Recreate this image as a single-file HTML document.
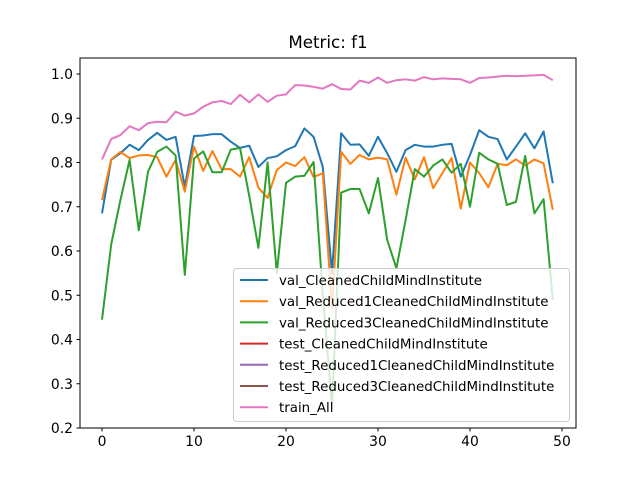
<!DOCTYPE html>
<html><head><meta charset="utf-8"><style>
body{margin:0;background:#fff}
text{font-family:"DejaVu Sans","Liberation Sans",sans-serif}
</style></head><body>
<svg id="chart" width="640" height="480" xmlns="http://www.w3.org/2000/svg">
<rect width="640" height="480" fill="#fff"/>
<text x="328" y="48" font-size="16.7" text-anchor="middle">Metric: f1</text>
<g id="grid"></g>
<g id="series"></g>
<rect x="80" y="58" width="496" height="370" fill="none" stroke="#000" stroke-width="1"/>
<g id="legend"></g>
</svg>
<script>
const epochs = Array.from({length:50},(_,i)=>i);
const xTicks = [0,10,20,30,40,50];
const yTicks = [0.2,0.3,0.4,0.5,0.6,0.7,0.8,0.9,1.0];
const valClean = [0.685,0.806,0.821,0.84,0.828,0.851,0.867,0.851,0.858,0.745,0.86,0.861,0.864,0.864,0.847,0.833,0.838,0.79,0.81,0.814,0.828,0.837,0.877,0.858,0.79,0.55,0.866,0.84,0.841,0.815,0.858,0.821,0.779,0.828,0.84,0.836,0.836,0.84,0.842,0.768,0.817,0.873,0.858,0.853,0.807,0.836,0.866,0.832,0.87,0.753];
const valRed1 = [0.715,0.807,0.824,0.81,0.816,0.817,0.812,0.768,0.806,0.734,0.836,0.781,0.826,0.785,0.785,0.768,0.812,0.743,0.72,0.783,0.8,0.792,0.812,0.767,0.776,0.47,0.824,0.797,0.817,0.807,0.811,0.807,0.727,0.811,0.762,0.812,0.742,0.776,0.81,0.696,0.8,0.776,0.744,0.797,0.794,0.807,0.793,0.807,0.798,0.693];
const valRed3 = [0.445,0.615,0.715,0.806,0.647,0.779,0.824,0.836,0.816,0.546,0.809,0.825,0.778,0.778,0.829,0.833,0.725,0.607,0.8,0.55,0.754,0.768,0.77,0.801,0.5,0.25,0.732,0.74,0.74,0.685,0.765,0.625,0.561,0.67,0.785,0.768,0.793,0.807,0.777,0.797,0.7,0.822,0.807,0.797,0.704,0.711,0.815,0.685,0.717,0.49];
const trainAll = [0.807,0.853,0.862,0.882,0.873,0.889,0.892,0.891,0.915,0.906,0.911,0.926,0.936,0.939,0.932,0.953,0.936,0.954,0.937,0.951,0.954,0.975,0.974,0.971,0.967,0.977,0.966,0.965,0.985,0.98,0.992,0.98,0.986,0.988,0.985,0.993,0.988,0.99,0.989,0.988,0.98,0.991,0.992,0.994,0.996,0.995,0.996,0.997,0.998,0.986];
const legendLabels = ["val_CleanedChildMindInstitute","val_Reduced1CleanedChildMindInstitute","val_Reduced3CleanedChildMindInstitute","test_CleanedChildMindInstitute","test_Reduced1CleanedChildMindInstitute","test_Reduced3CleanedChildMindInstitute","train_All"];
const legendColors = ["#1f77b4","#ff7f0e","#2ca02c","#d62728","#9467bd","#8c564b","#e377c2"];

const NS="http://www.w3.org/2000/svg";
const X=v=>102+(v-0)*9.2;
const Y=v=>428-(v-0.2)*442.5;
function mk(tag,attrs,parent){const e=document.createElementNS(NS,tag);for(const k in attrs)e.setAttribute(k,attrs[k]);parent.appendChild(e);return e;}
const grid=document.getElementById('grid');
xTicks.forEach(t=>{
  const l=mk('line',{x1:X(t),x2:X(t),y1:428,y2:431.5,stroke:'#000'},grid);
  
  
  const tx=mk('text',{x:X(t),y:446,'font-size':13.9,'text-anchor':'middle'},grid);
  tx.textContent=t;
  
  
});
yTicks.forEach(t=>{
  const l=mk('line',{x1:76.5,x2:80,y1:Y(t),y2:Y(t),stroke:'#000'},grid);
  
  
  const tx=mk('text',{x:73,y:Y(t)+5,'font-size':13.9,'text-anchor':'end'},grid);
  tx.textContent=t.toFixed(1);
  
  
});
const ser=document.getElementById('series');
const seriesList=[[valClean,0,'val-cleaned-line'],[valRed1,1,'val-reduced1-line'],[valRed3,2,'val-reduced3-line'],[trainAll,6,'train-all-line']];
seriesList.forEach(([d,ci,nm])=>{
  const p=mk('polyline',{points:d.map((v,i)=>X(epochs[i])+','+Y(v)).join(' '),fill:'none',stroke:legendColors[ci],'stroke-width':2,'stroke-linejoin':'round'},ser);
  
  
});
const lg=document.getElementById('legend');
const box=mk('rect',{x:233.5,y:268.5,width:336,height:153,rx:3,fill:'rgba(255,255,255,0.8)',stroke:'#ccc'},lg);


legendLabels.forEach((lab,i)=>{
  const y=280+i*21.2;
  const l=mk('line',{x1:240,x2:268,y1:y,y2:y,stroke:legendColors[i],'stroke-width':2},lg);
  
  
  const t=mk('text',{x:279,y:y+5,'font-size':13.4},lg);
  t.textContent=lab;
  
  
});
</script>
</body></html>
